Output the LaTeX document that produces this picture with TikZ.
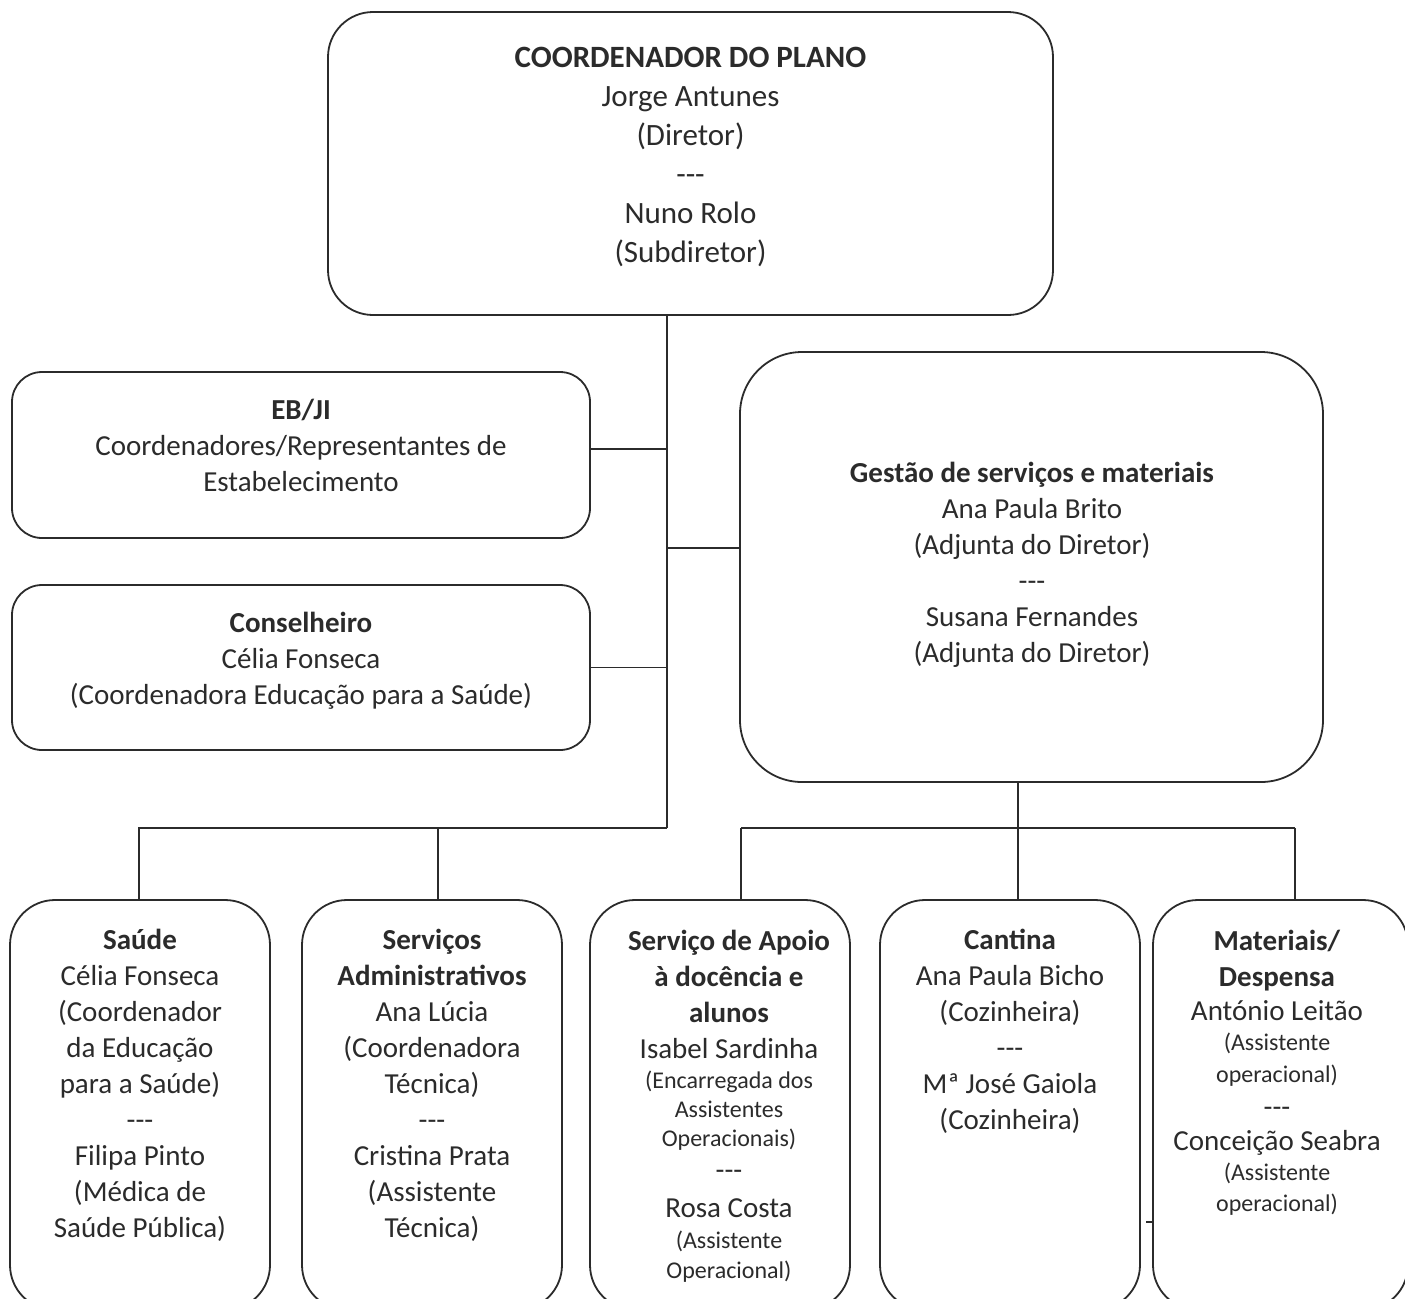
\documentclass[tikz,border=0pt]{standalone}
\usepackage{fontspec}
\setmainfont{Carlito}
\definecolor{ink}{HTML}{2B2B2B}
\newcommand\tripdash{-\kern0pt-\kern0pt-}
\newcommand\smallfs{\fontsize{12}{14.5}\selectfont}
\begin{document}
\begin{tikzpicture}[x=0.5pt,y=-0.5pt,
  box/.style={draw=ink, line width=0.9pt, rounded corners=#1, inner sep=0pt},
  txt/.style={align=center, anchor=base, inner sep=0pt, text=ink,
              font=\fontsize{14.5}{18}\selectfont},
  link/.style={draw=ink, line width=0.9pt}]
\useasboundingbox (0,0) rectangle (1405,1298);
\clip (0,0) rectangle (1405,1298);

% boxes (sizes in pt = half the pixel span)
\node[box=22.5pt, minimum width=362.5pt, minimum height=151.5pt] (top) at (690.5,163.5) {};
\node[box=15pt, minimum width=289pt, minimum height=83pt] (ebji) at (301,455) {};
\node[box=15pt, minimum width=289pt, minimum height=82.5pt] (cons) at (301,667.5) {};
\node[box=31pt, minimum width=291.5pt, minimum height=215pt] (gest) at (1031.5,567) {};
\node[box=22.5pt, minimum width=130pt, minimum height=205pt] (saude) at (140,1105) {};
\node[box=22.5pt, minimum width=130pt, minimum height=205pt] (serv) at (432,1105) {};
\node[box=22.5pt, minimum width=130pt, minimum height=205pt] (apoio) at (720,1105) {};
\node[box=22.5pt, minimum width=130pt, minimum height=205pt] (cant) at (1010,1105) {};
\node[box=22.5pt, minimum width=127.5pt, minimum height=205pt] (mat) at (1280.5,1105) {};

% texts (anchored at the baseline of their last line)
\node[txt, font=\fontsize{15.5}{19.5}\selectfont] (topT) at (690.5,262)
  {\textbf{COORDENADOR DO PLANO}\\ Jorge Antunes\\ (Diretor)\\ \tripdash\\ Nuno Rolo\\ (Subdiretor)};
\node[txt] (ebjiT) at (301,491)
  {\textbf{EB/JI}\\ Coordenadores/Representantes de\\ Estabelecimento};
\node[txt] (consT) at (301,704)
  {\textbf{Conselheiro}\\ Célia Fonseca\\ (Coordenadora Educação para a Saúde)};
\node[txt] (gestT) at (1032,662)
  {\textbf{Gestão de serviços e materiais}\\ Ana Paula Brito\\ (Adjunta do Diretor)\\ \tripdash\\ Susana Fernandes\\ (Adjunta do Diretor)};
\node[txt] (saudeT) at (140,1237)
  {\textbf{Saúde}\\ Célia Fonseca\\ (Coordenador\\ da Educação\\ para a Saúde)\\ \tripdash\\ Filipa Pinto\\ (Médica de\\ Saúde Pública)};
\node[txt] (servT) at (432,1237)
  {\textbf{Serviços}\\ \textbf{Administrativos}\\ Ana Lúcia\\ (Coordenadora\\ Técnica)\\ \tripdash\\ Cristina Prata\\ (Assistente\\ Técnica)};
\node[txt] (apoioT) at (729,1278)
  {\textbf{Serviço de Apoio}\\ \textbf{à docência e}\\ \textbf{alunos}\\ Isabel Sardinha\\[-3pt]
   {\smallfs (Encarregada dos}\\[-3.5pt] {\smallfs Assistentes}\\[-3.5pt] {\smallfs Operacionais)}\\[-1.5pt]
   \tripdash\\[1pt] Rosa Costa\\[-2.5pt] {\smallfs (Assistente}\\[-3pt] {\smallfs Operacional)}};
\node[txt] (cantT) at (1010,1129)
  {\textbf{Cantina}\\ Ana Paula Bicho\\ (Cozinheira)\\ \tripdash\\ Mª José Gaiola\\ (Cozinheira)};
\node[txt] (matT) at (1277,1211)
  {\textbf{Materiais/}\\ \textbf{Despensa}\\[-1pt] António Leitão\\[-3pt] {\smallfs (Assistente}\\[-2pt] {\smallfs operacional)}\\[-1pt]
   \tripdash\\[-1pt] Conceição Seabra\\[-3pt] {\smallfs (Assistente}\\[-2.5pt] {\smallfs operacional)}};

% junction points of the connector tree
\coordinate (j1) at (667,828);
\coordinate (j2) at (1018,828);
\coordinate (dS) at (139,828);
\coordinate (dV) at (438,828);
\coordinate (dA) at (741,828);
\coordinate (dM) at (1295,828);

% connectors from the coordinator
\draw[link] (top.south -| j1) -- (j1);
\draw[link] ([yshift=3pt]ebji.east) -- ([yshift=3pt]ebji.east -| j1);
\draw[link] (cons.east) -- (cons.east -| j1);
\draw[link] ([yshift=9.5pt]gest.west) -- ([yshift=9.5pt]gest.west -| j1);
\draw[link] (j1) -- (dS) -- (dS |- saude.north);
\draw[link] (dV) -- (dV |- serv.north);

% connectors from services management
\draw[link] (gest.south -| j2) -- (j2);
\draw[link] (dA) -- (dM);
\draw[link] (dA) -- (dA |- apoio.north);
\draw[link] (j2) -- (j2 |- cant.north);
\draw[link] (dM) -- (dM |- mat.north);

% small tick on the left side of the last box
\coordinate (tick) at (1146,1222);
\draw[link] (tick) -- (tick -| mat.west);
\end{tikzpicture}
\end{document}
